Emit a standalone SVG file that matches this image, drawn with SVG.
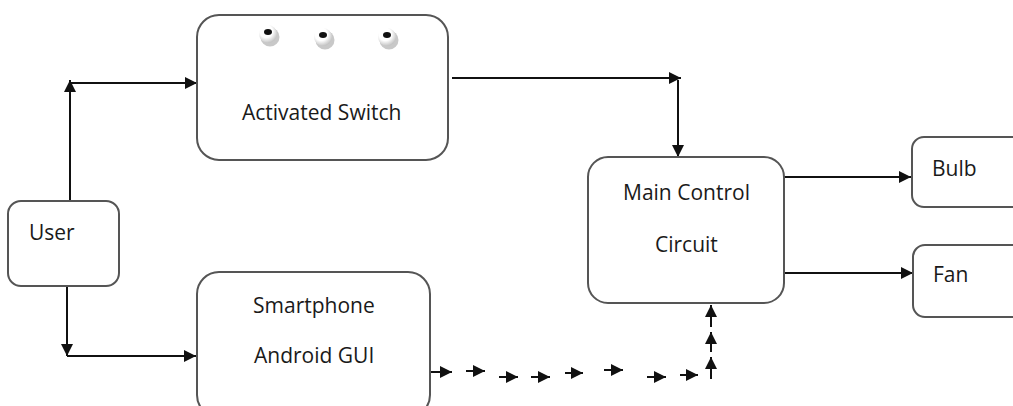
<svg xmlns="http://www.w3.org/2000/svg" width="1013" height="406" viewBox="0 0 1013 406">
<style>
.box{fill:#fff;stroke:#555;stroke-width:2}
.lbl{font-family:"Open Sans","Liberation Sans",sans-serif;font-size:21px;fill:#1a1a1a}
.ln{fill:none;stroke:#111;stroke-width:2}
.ar{fill:none;stroke:#111;stroke-width:2;marker-end:url(#ah)}
.da{fill:none;stroke:#111;stroke-width:2;marker-end:url(#sh)}
</style>
<defs>
<marker id="ah" markerUnits="userSpaceOnUse" markerWidth="14" markerHeight="12" refX="12" refY="6" orient="auto"><path d="M0,0 L12,6 L0,12 z" fill="#111"/></marker>
<marker id="sh" markerUnits="userSpaceOnUse" markerWidth="13" markerHeight="13" refX="12" refY="6" orient="auto"><path d="M0,0 L12,6 L0,12 z" fill="#111"/></marker>
<radialGradient id="btn" cx="0.4" cy="0.35" r="0.7"><stop offset="0.5" stop-color="#fff"/><stop offset="1" stop-color="#bbb"/></radialGradient>
</defs>
<g id="connectors">
<polyline class="ar" points="70,201 70,80"/>
<polyline class="ar" points="70,83 197,83"/>
<polyline class="ar" points="67,286 67,356"/>
<polyline class="ar" points="67,356 196,356"/>
<polyline class="ar" points="452,78 681,78"/>
<polyline class="ar" points="678,80 678,157"/>
<polyline class="ar" points="784,177 911,177"/>
<polyline class="ar" points="784,273 913,273"/>
<line class="ln" x1="430" y1="372" x2="441" y2="372"/>
<line class="da" x1="441" y1="372" x2="452" y2="372"/>
<line class="da" x1="466" y1="371" x2="485" y2="371"/>
<line class="da" x1="499" y1="377" x2="518" y2="377"/>
<line class="da" x1="531" y1="377" x2="550" y2="377"/>
<line class="da" x1="565" y1="373" x2="583" y2="373"/>
<line class="da" x1="604" y1="370" x2="623" y2="370"/>
<line class="da" x1="647" y1="377" x2="666" y2="377"/>
<line class="da" x1="680" y1="375" x2="698" y2="375"/>
<line class="da" x1="711" y1="379" x2="711" y2="357"/>
<line class="da" x1="711" y1="352" x2="711" y2="332"/>
<line class="da" x1="711" y1="327" x2="711" y2="305"/>
</g>
<g id="activated-switch">
<rect class="box" x="197" y="15" width="251" height="145" rx="22"/>
<g fill="#c8c8c8"><circle cx="270" cy="37" r="9.5"/><circle cx="325" cy="40" r="9.5"/><circle cx="389" cy="40" r="9.5"/></g>
<g fill="url(#btn)"><circle cx="268" cy="34" r="9"/><circle cx="323" cy="37" r="9"/><circle cx="387" cy="37" r="9"/></g>
<g fill="#111"><ellipse cx="268" cy="32" rx="4" ry="3"/><ellipse cx="323" cy="35" rx="4" ry="3"/><ellipse cx="387" cy="35" rx="4" ry="3"/></g>
<text class="lbl" x="242" y="120">Activated Switch</text>
</g>
<g id="user">
<rect class="box" x="8" y="201" width="111" height="85" rx="13"/>
<text class="lbl" x="29" y="240">User</text>
</g>
<g id="smartphone">
<rect class="box" x="197" y="272" width="233" height="145" rx="22"/>
<text class="lbl" x="253" y="313">Smartphone</text>
<text class="lbl" x="254" y="363">Android GUI</text>
</g>
<g id="main-control">
<rect class="box" x="588" y="157" width="196" height="146" rx="20"/>
<text class="lbl" x="623" y="200">Main Control</text>
<text class="lbl" x="655" y="252">Circuit</text>
</g>
<g id="bulb">
<rect class="box" x="912" y="137" width="120" height="70" rx="12"/>
<text class="lbl" x="932" y="176">Bulb</text>
</g>
<g id="fan">
<rect class="box" x="913" y="245" width="120" height="72" rx="12"/>
<text class="lbl" x="933" y="282">Fan</text>
</g>
</svg>
